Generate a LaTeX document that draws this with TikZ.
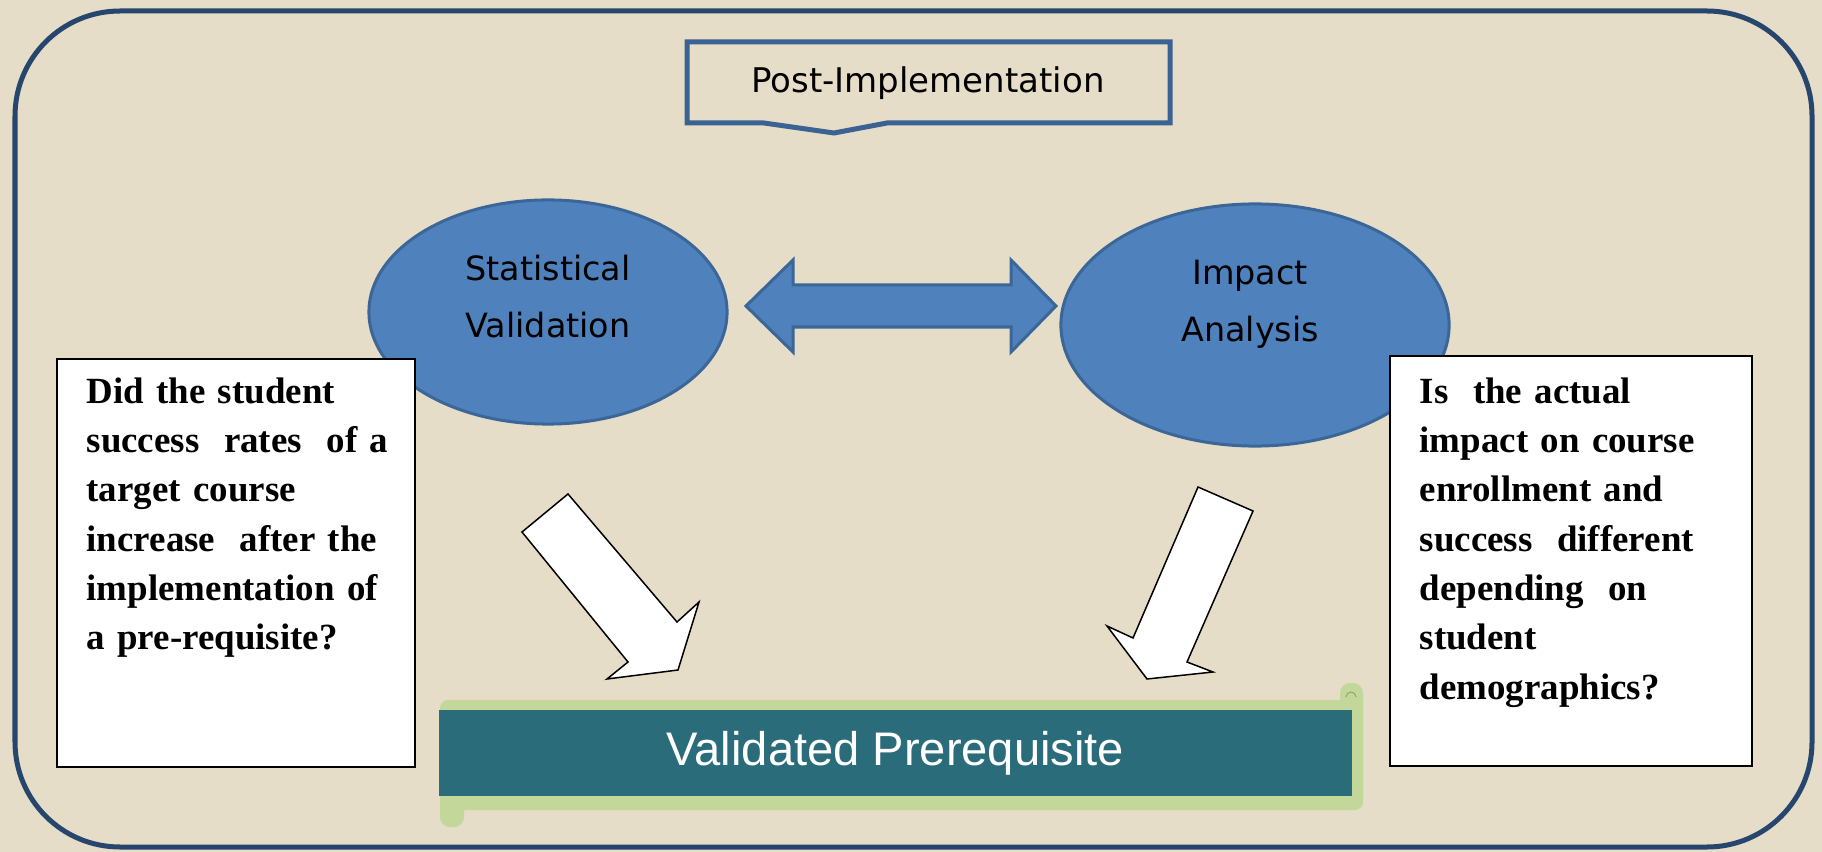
\documentclass[tikz,border=0pt]{standalone}
\usepackage{fontspec}
\setmainfont{Liberation Serif}
\setsansfont{DejaVu Sans}
\newfontfamily\arialfont{Liberation Sans}
\usetikzlibrary{shapes}
\definecolor{paper}{HTML}{E5DDC7}
\definecolor{framenavy}{HTML}{26466E}
\definecolor{calloutblue}{HTML}{3A6293}
\definecolor{bubblefill}{HTML}{4F81BD}
\definecolor{bubbleline}{HTML}{3B6698}
\definecolor{tealbar}{HTML}{2A6C7A}
\definecolor{scrollgreen}{HTML}{C4D79B}

\begin{document}
\begin{tikzpicture}[x=0.01cm, y=-0.01cm,
    bubble/.style={ellipse, fill=bubblefill, draw=bubbleline, line width=0.03cm, inner sep=0pt},
    bubbletext/.style={anchor=base, text width=2.2cm, align=center, inner sep=0pt,
        font=\sffamily\fontsize{9.5}{16.2}\selectfont},
    qbox/.style={rectangle, fill=white, draw=black, line width=0.02cm, inner sep=0pt},
    qtext/.style={anchor=base west, text width=3.3cm, align=left, inner sep=0pt,
        font=\bfseries\fontsize{10.5}{14.03}\selectfont},
    blockarrow/.style={fill=white, draw=black, line width=0.015cm, line join=miter}]
        % Draw page and frame
        \useasboundingbox (0,0) rectangle (1822,852);
        \fill[paper] (0,0) rectangle (1822,852);
        \draw[framenavy, line width=0.05cm, rounded corners=1.05cm] (15,11) rectangle (1812,847);
        % Draw title callout
        \draw[calloutblue, fill=paper, line width=0.05cm] (687,42) -- (1170,42) -- (1170,123)
        -- (887,123) -- (834,133) -- (764,123) -- (687,123) -- cycle;
        \node[anchor=base, inner sep=0pt, font=\sffamily\fontsize{9.67}{12}\selectfont] (post)
        at (928,93) {Post-Implementation};
        % Draw the two ellipses
        \node[bubble, minimum width=3.58cm, minimum height=2.24cm] (stat) at (548,312) {};
        \node[bubble, minimum width=3.88cm, minimum height=2.42cm] (impact) at (1255,325) {};
        \node[bubbletext] (stattxt) at (548,281) {Statistical\\Validation};
        \node[bubbletext] (impacttxt) at (1250,285) {Impact\\Analysis};
        % Draw double arrow
        \filldraw[fill=bubblefill, draw=bubbleline, line width=0.03cm] (746,306) -- (793,260)
        -- (793,285) -- (1011,285) -- (1011,260) -- (1056,306) -- (1011,352) -- (1011,327)
        -- (793,327) -- (793,352) -- cycle;
        % Draw question boxes
        \node[qbox, minimum width=3.58cm, minimum height=4.08cm] (leftq) at (236,563) {};
        \node[qbox, minimum width=3.62cm, minimum height=4.10cm] (rightq) at (1571,561) {};
        \node[qtext] (lefttxt) at (86,403) {Did the student\\success\ \ rates\ \ of a\\target course\\
        increase\ \ after the\\implementation of\\a pre-requisite?};
        \node[qtext] (righttxt) at (1419,403) {Is\ \ the actual\\impact on course\\enrollment and\\
        success\ \ different\\depending\ \ on\\student\\demographics?};
        % Draw scroll banner
        \fill[scrollgreen, rounded corners=0.08cm] (440,700) rectangle (1363,810);
        \fill[scrollgreen, rounded corners=0.1cm] (1340,683) rectangle (1363,720);
        \fill[scrollgreen, rounded corners=0.1cm] (440,790) rectangle (464,827);
        \draw[scrollgreen!75!black, line width=0.01cm] (1346,697) arc[start angle=180, end angle=0, radius=0.05cm];
        \node[fill=tealbar, minimum width=9.13cm, minimum height=0.86cm, inner sep=0pt, text=white,
        font=\arialfont\fontsize{13.4}{16}\selectfont] (valid) at (895.5,753) {Validated Prerequisite};
        % Draw white block arrows
        \filldraw[blockarrow] (568,494) -- (522,532) -- (628,662) -- (607,679) -- (678,670)
        -- (699,602) -- (677,622) -- cycle;
        \filldraw[blockarrow] (1198,487) -- (1253,511) -- (1187,662) -- (1213,672) -- (1147,679)
        -- (1107,626) -- (1133,638) -- cycle;
    \end{tikzpicture}
\end{document}
